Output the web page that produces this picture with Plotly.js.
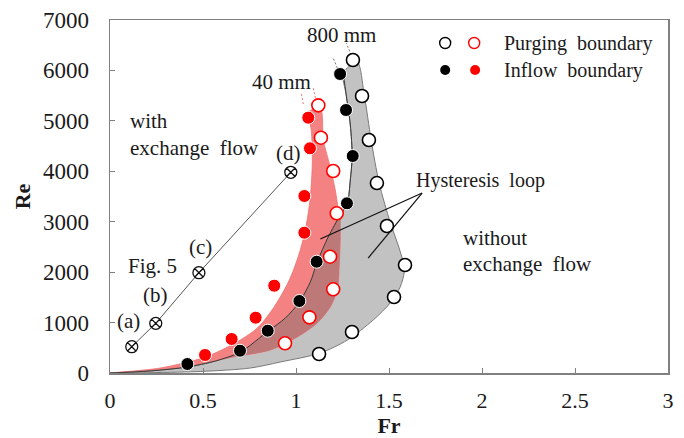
<!DOCTYPE html>
<html>
<head>
<meta charset="utf-8">
<script src="https://cdn.plot.ly/plotly-3.0.1.min.js"></script>
<style>html,body{margin:0;padding:0;background:#fff;}#chart{width:684px;height:438px;}</style>
</head>
<body>
<div id="chart"></div>
<script>
// ---- measured data (Fr, Re) ----
const frPurge800  = [1.306, 1.355, 1.392, 1.435, 1.489, 1.586, 1.527, 1.301, 1.124];
const rePurge800  = [6207, 5493, 4620, 3767, 2915, 2142, 1507, 813, 377];
const frInflow800 = [1.237, 1.269, 1.305, 1.274, 1.111, 1.018, 0.848, 0.699, 0.416];
const reInflow800 = [5929, 5215, 4303, 3365, 2207, 1428, 839, 442, 178];
const frPurge40   = [1.120, 1.134, 1.200, 1.219, 1.183, 1.200, 1.072, 0.941];
const rePurge40   = [5308, 4666, 4006, 3167, 2306, 1660, 1104, 589];
const frInflow40  = [1.066, 1.075, 1.045, 1.045, 0.883, 0.783, 0.654, 0.511];
const reInflow40  = [5063, 4456, 3510, 2782, 1731, 1097, 674, 357];
const frFig5      = [0.117, 0.246, 0.478, 0.972];
const reFig5      = [522, 985, 1989, 3980];
const fig5Labels  = ['(a)', '(b)', '(c)', '(d)'];

// ---- boundary curves ----
// 800 mm inflow boundary (left edge of grey band), bottom -> top
const frEdgeIn800 = [0, 0.215, 0.416, 0.567, 0.701, 0.851, 0.943, 1.018, 1.077, 1.114, 1.173, 1.238, 1.276, 1.292, 1.302, 1.292, 1.270, 1.254];
const reEdgeIn800 = [0, 40, 119, 238, 416, 833, 1091, 1408, 1805, 2201, 2697, 3133, 3371, 3827, 4303, 4918, 5513, 5949];
// 800 mm purging boundary (right edge of grey band), top -> bottom
const frEdgePu800 = [1.329, 1.367, 1.404, 1.447, 1.506, 1.549, 1.576, 1.582, 1.560, 1.506, 1.415, 1.276, 1.131, 0.916, 0.755, 0.486, 0];
const reEdgePu800 = [6167, 5513, 4620, 3768, 2994, 2538, 2201, 2003, 1705, 1388, 1051, 654, 397, 218, 99, 30, 0];
// 40 mm inflow boundary (left edge of red band), bottom -> top
const frEdgeIn40 = [0, 0.271, 0.513, 0.663, 0.792, 0.889, 0.969, 1.023, 1.055, 1.077, 1.088, 1.082, 1.066];
const reEdgeIn40 = [0, 99, 317, 575, 892, 1348, 1884, 2439, 2935, 3490, 4224, 4819, 5176];
// 40 mm purging boundary (right edge of red band), top -> bottom
const frEdgePu40 = [1.131, 1.147, 1.184, 1.211, 1.227, 1.238, 1.232, 1.222, 1.184, 1.114, 1.007, 0.862, 0.663, 0.395, 0];
const reEdgePu40 = [5235, 4620, 4085, 3629, 3232, 2776, 2102, 1646, 1309, 992, 714, 456, 317, 119, 0];
// short dashed extensions above each boundary
const frDashPu800 = [1.297, 1.270], reDashPu800 = [6306, 6544];
const frDashIn800 = [1.222, 1.200], reDashIn800 = [6048, 6246];
const frDashPu40  = [1.104, 1.093], reDashPu40  = [5453, 5652];
const frDashIn40  = [1.039, 1.028], reDashIn40  = [5334, 5553];

const xTicks = [0, 0.5, 1, 1.5, 2, 2.5, 3];
const xTickText = ['0', '0.5', '1', '1.5', '2', '2.5', '3'];
const yTicks = [0, 1000, 2000, 3000, 4000, 5000, 6000, 7000];
const yTickText = ['0', '1000', '2000', '3000', '4000', '5000', '6000', '7000'];

const FONT = 'Liberation Serif, Times New Roman, serif';
const RED = '#ff0000';

const greyX = frEdgeIn800.concat(frEdgePu800);
const greyY = reEdgeIn800.concat(reEdgePu800);
const redX = frEdgeIn40.concat(frEdgePu40);
const redY = reEdgeIn40.concat(reEdgePu40);
const ovX = frEdgeIn800.slice(0, 12).concat(frEdgePu40.slice(5));
const ovY = reEdgeIn800.slice(0, 12).concat(reEdgePu40.slice(5));

const traces = [
  {x: greyX, y: greyY, mode: 'lines', fill: 'toself', fillcolor: '#c2c2c2',
   line: {color: '#7a7a7a', width: 1, shape: 'spline', smoothing: 0.8}, hoverinfo: 'skip'},
  {x: redX, y: redY, mode: 'lines', fill: 'toself', fillcolor: '#f58282',
   line: {color: '#f07070', width: 0.8, shape: 'spline', smoothing: 0.8}, hoverinfo: 'skip'},
  {x: ovX, y: ovY, mode: 'lines', fill: 'toself', fillcolor: '#bd7878',
   line: {color: 'rgba(0,0,0,0)', width: 0, shape: 'spline', smoothing: 0.8}, hoverinfo: 'skip'},
  {x: frEdgeIn800, y: reEdgeIn800, mode: 'lines',
   line: {color: '#3a3a3a', width: 1, shape: 'spline', smoothing: 0.8}, hoverinfo: 'skip'},
  {x: frDashPu800, y: reDashPu800, mode: 'lines', line: {color: '#777', width: 1, dash: '2px,2px'}},
  {x: frDashIn800, y: reDashIn800, mode: 'lines', line: {color: '#777', width: 1, dash: '2px,2px'}},
  {x: frDashPu40, y: reDashPu40, mode: 'lines', line: {color: '#f07070', width: 1, dash: '2px,2px'}},
  {x: frDashIn40, y: reDashIn40, mode: 'lines', line: {color: '#f07070', width: 1, dash: '2px,2px'}},
  // Fig.5 cases
  {x: frFig5, y: reFig5, mode: 'lines+markers',
   line: {color: '#555', width: 1},
   marker: {symbol: 'circle-x-open', size: 12, color: '#111', line: {width: 1.3}}},
  // data markers
  {x: frInflow40, y: reInflow40, mode: 'markers',
   marker: {symbol: 'circle', size: 13, color: RED, line: {color: '#fff', width: 1}}},
  {x: frInflow800, y: reInflow800, mode: 'markers',
   marker: {symbol: 'circle', size: 13, color: '#000', line: {color: '#fff', width: 1}}},
  {x: frPurge40, y: rePurge40, mode: 'markers',
   marker: {symbol: 'circle', size: 13, color: '#fff', line: {color: RED, width: 1.6}}},
  {x: frPurge800, y: rePurge800, mode: 'markers',
   marker: {symbol: 'circle', size: 13, color: '#fff', line: {color: '#000', width: 1.6}}},
  // legend keys
  {x: [1.802, 1.958], y: [6544, 6544], mode: 'markers', cliponaxis: false,
   marker: {symbol: 'circle', size: 11, color: '#fff', line: {color: ['#000', RED], width: 1.4}}},
  {x: [1.802, 1.963], y: [6008, 6008], mode: 'markers', cliponaxis: false,
   marker: {symbol: 'circle', size: 10, color: ['#000', RED], line: {width: 0}}}
];

const txt = (x, y, text, xanchor, size) => ({
  x: x, y: y, xref: 'x', yref: 'y', text: text, showarrow: false,
  xanchor: xanchor || 'center', yanchor: 'middle',
  font: {family: FONT, size: size || 21, color: '#1a1a1a'}
});

const annotations = [
  txt(1.243, 6703, '800 mm'),
  txt(0.921, 5771, '40 mm'),
  txt(0.095, 4997, 'with', 'left'),
  txt(0.095, 4462, 'exchange  flow', 'left'),
  txt(0.959, 4363, fig5Labels[3]),
  txt(0.486, 2499, fig5Labels[2]),
  txt(0.244, 1547, fig5Labels[1]),
  txt(0.099, 1031, fig5Labels[0]),
  txt(0.228, 2122, 'Fig. 5'),
  txt(1.888, 2677, 'without', 'left'),
  txt(1.888, 2162, 'exchange  flow', 'left'),
  txt(1.99, 3827, 'Hysteresis  loop', 'center', 20),
  txt(2.11, 6544, 'Purging  boundary', 'left', 20),
  txt(2.11, 6008, 'Inflow  boundary', 'left', 20)
];

const shapes = [
  {type: 'line', xref: 'x', yref: 'y', x0: 1.678, y0: 3569, x1: 1.131, y1: 2657, line: {color: '#111', width: 1.2}},
  {type: 'line', xref: 'x', yref: 'y', x0: 1.678, y0: 3569, x1: 1.388, y1: 2280, line: {color: '#111', width: 1.2}}
];

const layout = {
  width: 684, height: 438,
  margin: {l: 110, r: 16, t: 20, b: 65},
  paper_bgcolor: '#fff', plot_bgcolor: '#fff',
  showlegend: false,
  font: {family: FONT, color: '#1a1a1a'},
  xaxis: {
    range: [0, 3], tickvals: xTicks, ticktext: xTickText,
    ticks: 'inside', ticklen: 5, tickcolor: '#808080', tickwidth: 1,
    showline: true, linecolor: '#808080', linewidth: 1.5, mirror: true,
    showgrid: false, zeroline: false,
    tickfont: {family: FONT, size: 22, color: '#1a1a1a'},
    ticklabelstandoff: 7,
    title: {text: '<b>Fr</b>', font: {family: FONT, size: 22, color: '#1a1a1a'}, standoff: 10},
    automargin: false
  },
  yaxis: {
    range: [0, 7000], tickvals: yTicks, ticktext: yTickText,
    ticks: 'inside', ticklen: 5, tickcolor: '#808080', tickwidth: 1,
    showline: true, linecolor: '#808080', linewidth: 1.5, mirror: true,
    showgrid: false, zeroline: false,
    tickfont: {family: FONT, size: 23, color: '#1a1a1a'},
    ticklabelstandoff: 15,
    title: {text: '<b>Re</b>', font: {family: FONT, size: 22, color: '#1a1a1a'}, standoff: 6},
    automargin: false
  },
  annotations: annotations,
  shapes: shapes
};

Plotly.newPlot('chart', traces, layout, {staticPlot: true, displayModeBar: false});
</script>
</body>
</html>
